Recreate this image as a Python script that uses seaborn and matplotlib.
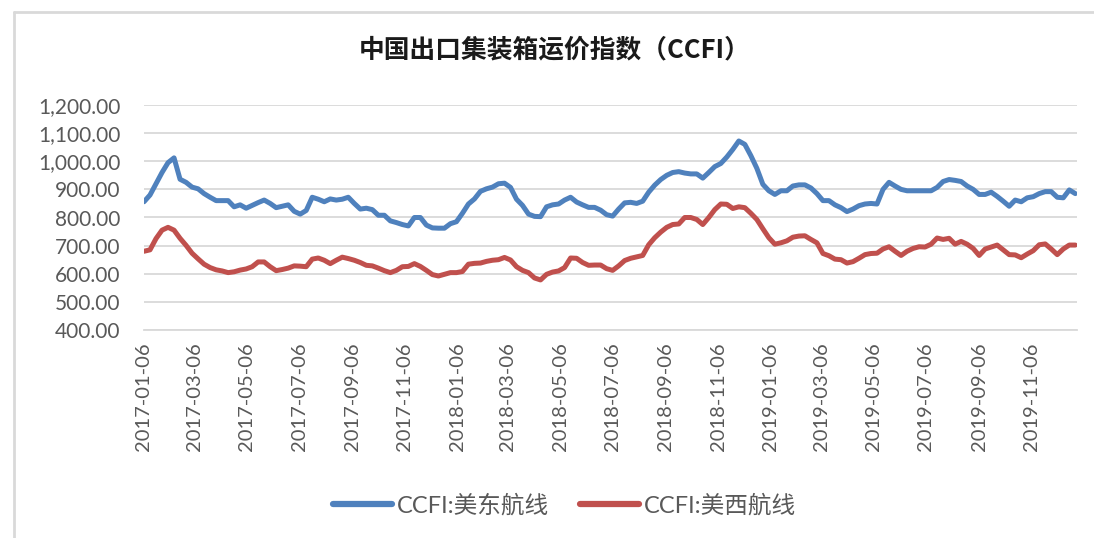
import numpy as np
import pandas as pd
import matplotlib
matplotlib.use("Agg")
import matplotlib.pyplot as plt
import matplotlib.dates as mdates
from matplotlib.ticker import FuncFormatter
from matplotlib.lines import Line2D
import seaborn as sns

# ---------------- data ----------------
start_date = "2017-01-06"
n_weeks = 156
series_names = ["CCFI:美东航线", "CCFI:美西航线"]

us_east = [
    856, 880, 920, 960, 995, 1012, 936, 925, 908, 902,
    885, 872, 860, 860, 860, 838, 845, 833, 843, 853,
    862, 850, 835, 840, 845, 822, 812, 825, 872, 865,
    856, 866, 862, 865, 872, 850, 830, 833, 828, 808,
    808, 788, 782, 775, 770, 800, 800, 773, 763, 762,
    762, 778, 785, 815, 848, 866, 893, 902, 908, 920,
    922, 907, 865, 843, 812, 804, 803, 838, 845, 848,
    862, 872, 855, 845, 836, 836, 826, 810, 805, 830,
    852, 854, 850, 858, 890, 915, 935, 950, 960, 963,
    958, 955, 955, 940, 960, 981, 992, 1015, 1042, 1072,
    1060, 1020, 975, 918, 895, 882, 895, 895, 912, 916,
    916, 905, 885, 860, 860, 845, 835, 821, 830, 842,
    848, 850, 848, 900, 925, 912, 900, 895, 895, 895,
    895, 895, 907, 928, 935, 932, 928, 912, 900, 882,
    882, 890, 875, 858, 840, 862, 856, 870, 874, 885,
    892, 892, 872, 870, 898, 885,
]

us_west = [
    680, 685, 725, 755, 765, 755, 726, 701, 673, 653,
    634, 622, 614, 610, 604, 607, 613, 617, 625, 642,
    642, 625, 611, 615, 620, 628, 627, 625, 652, 656,
    648, 636, 648, 659, 654, 648, 640, 630, 628, 620,
    611, 604, 612, 625, 626, 636, 626, 612, 597, 592,
    598, 604, 604, 608, 634, 637, 638, 644, 648, 650,
    658, 649, 625, 612, 604, 585, 578, 598, 606, 610,
    622, 656, 655, 640, 630, 631, 631, 618, 612, 628,
    647, 655, 660, 665, 703, 728, 748, 765, 775, 777,
    800, 800, 793, 775, 800, 828, 848, 847, 832, 838,
    835, 815, 793, 760, 728, 705, 710, 717, 730, 734,
    735, 722, 710, 672, 664, 652, 650, 638, 643, 655,
    668, 672, 673, 688, 696, 680, 665, 680, 690, 696,
    695, 705, 727, 722, 726, 705, 715, 705, 690, 665,
    688, 695, 702, 685, 668, 667, 657, 670, 682, 703,
    706, 688, 668, 688, 702, 702,
]

title_text = "中国出口集装箱运价指数（CCFI）"
y_ticks = [400, 500, 600, 700, 800, 900, 1000, 1100, 1200]

dates = pd.date_range(start_date, periods=n_weeks, freq="7D")
df = pd.DataFrame({
    "date": np.concatenate([dates, dates]),
    "value": us_east + us_west,
    "series": [series_names[0]] * n_weeks + [series_names[1]] * n_weeks,
})

# ---------------- style ----------------
sns.set_style("white")
plt.rcParams["font.family"] = ["Lato", "Noto Sans CJK SC", "DejaVu Sans"]

W, H = 1094, 538
fig = plt.figure(figsize=(W / 100, H / 100), dpi=100)
ax = fig.add_axes([144 / W, 1 - 330 / H, (1077 - 144) / W, (330 - 105) / H])

palette = {series_names[0]: "#4F81BD", series_names[1]: "#C0504D"}
sns.lineplot(data=df, x="date", y="value", hue="series", palette=palette,
             linewidth=3.6, ax=ax, legend=False)

ax.set_ylim(400, 1200)
ax.set_yticks(y_ticks)
ax.yaxis.set_major_formatter(FuncFormatter(lambda v, p: f"{v:,.2f}"))
ax.set_xlim(pd.Timestamp("2017-01-06"), pd.Timestamp("2019-12-29"))
ax.xaxis.set_major_locator(mdates.MonthLocator(bymonth=[1, 3, 5, 7, 9, 11], bymonthday=6))
ax.xaxis.set_major_formatter(mdates.DateFormatter("%Y-%m-%d"))

ax.grid(axis="y", color="#d9d9d9", linewidth=1.3)
ax.set_axisbelow(True)
for s in ["left", "right", "top"]:
    ax.spines[s].set_visible(False)
ax.spines["bottom"].set_color("#d9d9d9")
ax.spines["bottom"].set_linewidth(1.3)
ax.tick_params(axis="x", which="major", direction="out", length=5, width=1.3,
               color="#d9d9d9", labelsize=14.5, labelcolor="#595959", rotation=90, pad=4)
ax.tick_params(axis="y", length=0, labelsize=15, labelcolor="#595959", pad=17)
ax.set_xlabel("")
ax.set_ylabel("")

fig.text(0.507, 1 - 50 / H, title_text, ha="center", va="center",
         fontsize=18.5, fontweight="bold", color="#1a1a1a",
         family=["Noto Sans CJK SC", "DejaVu Sans"])

handles = [Line2D([0], [0], color=palette[n], linewidth=4.5, solid_capstyle="round")
           for n in series_names]
leg = fig.legend(handles, series_names, loc="center", bbox_to_anchor=(0.516, 1 - 505 / H),
                 ncol=2, frameon=False, fontsize=17, handlelength=2.5, handletextpad=0.2,
                 columnspacing=1.3)
for t in leg.get_texts():
    t.set_color("#595959")
    t.set_family(["Lato", "Noto Sans CJK SC", "DejaVu Sans"])

# outer chart border (left and top visible)
fig.add_artist(Line2D([14 / W, 14 / W], [0, 1 - 12 / H], transform=fig.transFigure,
                      color="#d9d9d9", linewidth=2))
fig.add_artist(Line2D([14 / W, 1], [1 - 12 / H, 1 - 12 / H], transform=fig.transFigure,
                      color="#d9d9d9", linewidth=2))

fig.savefig("out.png", dpi=100)
